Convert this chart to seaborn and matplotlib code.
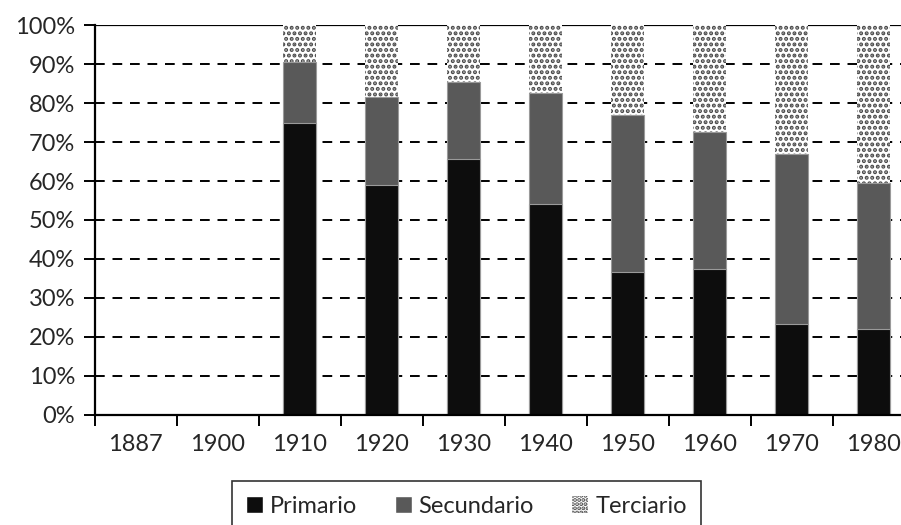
import numpy as np
import pandas as pd
import matplotlib
matplotlib.use("Agg")
import matplotlib.pyplot as plt
import matplotlib.ticker as mticker
from matplotlib.patches import Patch
import seaborn as sns

sns.set_style("white")
plt.rcParams["font.family"] = ["Lato", "DejaVu Sans"]
plt.rcParams["hatch.linewidth"] = 2.0

# Shares of each sector by census year (percent)
years = ["1887", "1900", "1910", "1920", "1930", "1940", "1950", "1960", "1970", "1980"]
primario = [np.nan, np.nan, 75.0, 59.0, 65.7, 54.1, 36.6, 37.3, 23.3, 22.0]
secundario = [np.nan, np.nan, 15.6, 22.6, 19.8, 28.6, 40.3, 35.2, 43.6, 37.5]
terciario = [np.nan, np.nan, 9.4, 18.4, 14.5, 17.3, 23.1, 27.5, 33.1, 40.5]

df = pd.DataFrame(
    {"year": years, "Primario": primario, "Secundario": secundario, "Terciario": terciario}
)
df["top_sec"] = df["Primario"] + df["Secundario"]
df["top_ter"] = df["top_sec"] + df["Terciario"]

fig = plt.figure(figsize=(9.01, 5.25), dpi=100)
ax = fig.add_axes([0.105, 0.21, 0.91, 0.742])

# stacked bars: draw totals first, then cover with lower segments
sns.barplot(data=df, x="year", y="top_ter", color="white", width=0.4,
            saturation=1, linewidth=0, ax=ax, zorder=3)
for p in ax.patches:
    p.set_hatch("...")
    p.set_edgecolor("#4a4a4a")
    p.set_linewidth(0)
sns.barplot(data=df, x="year", y="top_sec", color="#595959", width=0.4,
            saturation=1, edgecolor="#9a9a9a", linewidth=0.8, ax=ax, zorder=3)
sns.barplot(data=df, x="year", y="Primario", color="#0d0d0d", width=0.4,
            saturation=1, edgecolor="#9a9a9a", linewidth=0.8, ax=ax, zorder=3)

ax.set_ylim(0, 100)
ax.set_xlim(-0.5, len(years) - 0.5)
ax.yaxis.set_major_locator(mticker.MultipleLocator(10))
ax.yaxis.set_major_formatter(mticker.FuncFormatter(lambda v, _: f"{int(v)}%"))
for yv in range(10, 100, 10):
    ax.axhline(yv, color="black", linestyle=(0, (5, 4)), linewidth=1.4, zorder=2)
ax.axhline(100, color="black", linewidth=1.6, zorder=2)

ax.set_xlabel("")
ax.set_ylabel("")
ax.set_xticks(np.arange(len(years)))
ax.set_xticklabels(years)
ax.set_xticks(np.arange(len(years) + 1) - 0.5, minor=True)
ax.tick_params(axis="x", which="major", length=0, pad=14, labelsize=17)
ax.tick_params(axis="x", which="minor", length=8, width=1.4, direction="out",
               bottom=True, color="black")
ax.tick_params(axis="y", length=8, width=1.4, direction="out", left=True,
               labelsize=17, pad=6, color="black")

for side in ["top", "right"]:
    ax.spines[side].set_visible(False)
for side in ["left", "bottom"]:
    ax.spines[side].set_color("black")
    ax.spines[side].set_linewidth(1.6)
    ax.spines[side].set_zorder(4)

handles = [
    Patch(facecolor="#0d0d0d", label="Primario"),
    Patch(facecolor="#595959", label="Secundario"),
    Patch(facecolor="white", hatch="....", edgecolor="#4a4a4a", linewidth=0,
          label="Terciario"),
]
leg = fig.legend(handles=handles, loc="upper center", bbox_to_anchor=(0.518, 0.083),
                 ncol=3, frameon=True, fancybox=False, fontsize=17,
                 handlelength=0.7, handleheight=0.7, handletextpad=0.3,
                 columnspacing=1.6, borderpad=0.6, borderaxespad=0)
leg.get_frame().set_edgecolor("black")
leg.get_frame().set_linewidth(1.2)

fig.savefig("out.png", dpi=100)
